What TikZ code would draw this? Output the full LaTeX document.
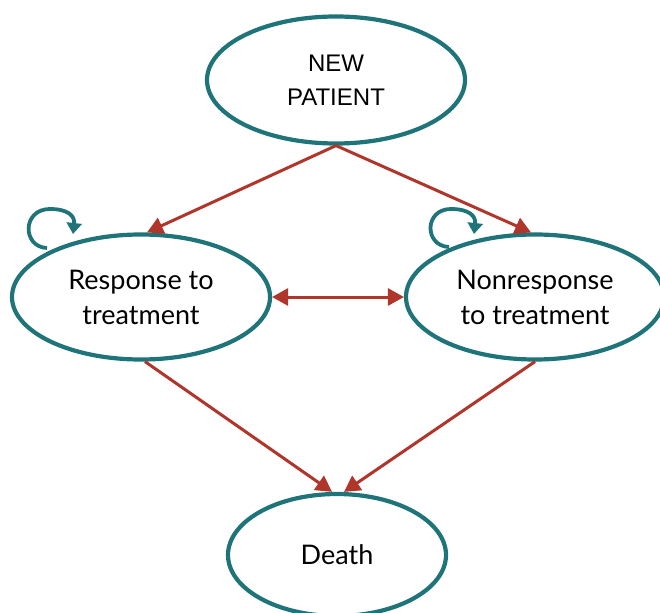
\documentclass[tikz,border=0pt]{standalone}
\usepackage{fontspec}
\setmainfont{Lato}
\newfontfamily\arialfont{Liberation Sans}
\usetikzlibrary{shapes.geometric,arrows.meta}
\definecolor{tealc}{HTML}{1E7478}
\definecolor{redc}{HTML}{B0352B}
\tikzset{
  state/.style={ellipse, draw=tealc, line width=4.2pt, inner sep=0pt, align=center, font=\fontsize{27}{35}\selectfont},
  flow/.style={draw=redc, line width=3pt, -{Triangle[length=16pt,width=17pt]}},
  bothflow/.style={draw=redc, line width=3pt, {Triangle[length=16pt,width=17pt]}-{Triangle[length=16pt,width=17pt]}},
  selfloop/.style={draw=tealc, line width=3.8pt, -{Triangle[length=11pt,width=15pt]}}
}
\begin{document}
\begin{tikzpicture}[x=1pt,y=-1pt]
\useasboundingbox (0,0) rectangle (660,612);
\node[state, minimum width=258pt, minimum height=127pt, font=\arialfont\fontsize{24}{34}\selectfont] (np) at (336,80) {NEW\\PATIENT};
\node[state, minimum width=258pt, minimum height=125pt] (resp) at (141,297) {Response to\\treatment};
\node[state, minimum width=258pt, minimum height=125pt] (nonr) at (535,297) {Nonresponse\\to treatment};
\node[state, minimum width=218pt, minimum height=122pt] (death) at (337,555) {Death};
\draw[flow] (np.south) -- ([xshift=6pt]resp.north);
\draw[flow] (np.south) -- ([xshift=-4pt]nonr.north);
\draw[bothflow] (resp.east) -- (nonr.west);
\draw[flow] ([xshift=4pt]resp.south) -- ([xshift=-5pt]death.north);
\draw[flow] (nonr.south) -- ([xshift=7pt]death.north);
\coordinate (ls) at (47,248);
\coordinate (le) at (73,234);
\draw[selfloop] (ls) .. controls (22,247) and (22,209) .. (50,209) .. controls (68,209) and (75,216) .. (le);
\coordinate (rs) at (449,247);
\coordinate (re) at (474,234);
\draw[selfloop] (rs) .. controls (424,246) and (424,209) .. (451,209) .. controls (469,209) and (476,216) .. (re);
\end{tikzpicture}
\end{document}
